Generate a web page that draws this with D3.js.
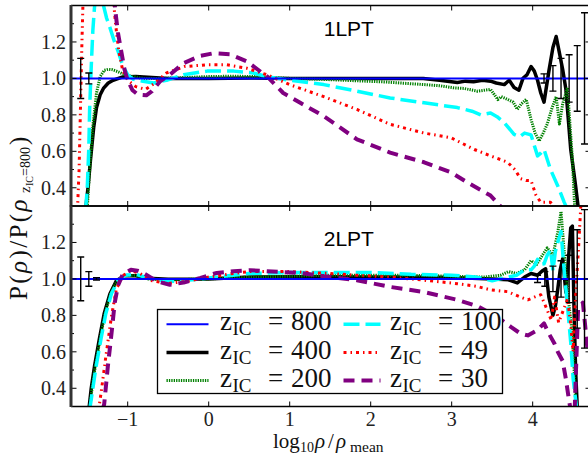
<!DOCTYPE html>
<html><head><meta charset="utf-8">
<script src="https://cdn.jsdelivr.net/npm/d3@7"></script>
<style>html,body{margin:0;padding:0;background:#fff;overflow:hidden}svg{display:block}</style>
</head><body><svg id="c" width="588" height="463"></svg>
<script>
// ---------------- data ----------------
const xTicks = [-1, 0, 1, 2, 3, 4];
const yTicks = [0.4, 0.6, 0.8, 1.0, 1.2];
const yMinorTicks = [0.4, 0.5, 0.6, 0.7, 0.8, 0.9, 1.0, 1.1, 1.2, 1.3];
const panelNames = ["1LPT", "2LPT"];
const seriesKeys = ["z400", "z200", "z100", "z49", "z30"];
const legendKeys = ["z800", "z400", "z200", "z100", "z49", "z30"];
const legendValues = ["800", "400", "200", "100", "49", "30"];
const z800Ratio = 1.0;

// 1LPT panel: [log10 rho/rho_mean, ratio]
const lpt1_z400 = [[-1.52,0.28],[-1.49,0.40],[-1.46,0.55],[-1.42,0.73],[-1.385,0.84],[-1.34,0.91],[-1.30,0.945],[-1.24,0.975],[-1.18,0.99],[-1.06,1.008],[-0.9,1.01],[-0.7,1.005],[-0.5,1.0],[0,1.0],[0.5,1.002],[1,1.0],[1.5,1.0],[2,1.0],[2.3,1.0],[2.65,1.0],[2.85,0.99],[3.07,0.978],[3.17,0.985],[3.27,0.982],[3.38,0.99],[3.48,0.985],[3.55,0.975],[3.65,0.966],[3.71,0.99],[3.77,0.95],[3.83,0.935],[3.88,1.0],[3.93,1.02],[3.98,1.065],[4.02,1.04],[4.06,0.99],[4.10,0.92],[4.14,0.87],[4.20,1.04],[4.25,1.17],[4.29,1.23],[4.33,1.14],[4.37,1.05],[4.41,0.94],[4.47,0.61],[4.53,0.41],[4.56,0.3],[4.58,0.25]];
const lpt1_z200 = [[-1.50,0.28],[-1.47,0.50],[-1.43,0.74],[-1.385,0.92],[-1.34,1.01],[-1.29,1.045],[-1.24,1.05],[-1.19,1.048],[-1.14,1.04],[-1.06,1.025],[-1.0,1.015],[-0.81,1.0],[-0.6,1.0],[-0.3,1.005],[0,1.01],[0.3,1.012],[0.6,1.01],[0.8,1.005],[1.0,1.0],[1.4,0.995],[1.83,0.987],[2.2,0.98],[2.66,0.966],[2.85,0.96],[3.03,0.948],[3.15,0.945],[3.32,0.93],[3.40,0.935],[3.48,0.94],[3.57,0.884],[3.61,0.90],[3.69,0.885],[3.76,0.87],[3.81,0.83],[3.86,0.86],[3.92,0.885],[3.98,0.775],[4.03,0.70],[4.08,0.657],[4.13,0.70],[4.18,0.75],[4.24,0.84],[4.29,0.90],[4.33,0.75],[4.37,0.86],[4.43,0.95],[4.46,0.75],[4.49,0.56],[4.52,0.28]];
const lpt1_z100 = [[-1.52,0.28],[-1.50,0.39],[-1.48,0.62],[-1.47,0.83],[-1.45,1.065],[-1.43,1.265],[-1.41,1.39],[-1.38,1.52],[-1.34,1.56],[-1.31,1.42],[-1.26,1.33],[-1.22,1.28],[-1.17,1.21],[-1.12,1.15],[-1.06,1.07],[-1.0,1.02],[-0.93,0.995],[-0.81,0.984],[-0.68,0.975],[-0.52,0.99],[-0.31,1.02],[-0.02,1.04],[0.31,1.04],[0.55,1.03],[0.72,1.01],[1.0,0.99],[1.42,0.966],[1.83,0.93],[2.24,0.893],[2.66,0.866],[3.07,0.84],[3.25,0.82],[3.36,0.80],[3.48,0.81],[3.56,0.79],[3.65,0.757],[3.77,0.693],[3.84,0.68],[3.9,0.70],[3.98,0.69],[4.06,0.575],[4.10,0.59],[4.14,0.61],[4.22,0.50],[4.31,0.41],[4.39,0.32],[4.43,0.28]];
const lpt1_z49 = [[-1.62,0.28],[-1.60,0.5],[-1.58,0.9],[-1.565,1.2],[-1.55,1.45],[-1.45,2.0],[-1.25,2.0],[-1.18,1.45],[-1.15,1.30],[-1.11,1.15],[-1.06,1.04],[-1.0,0.99],[-0.9,0.955],[-0.78,0.94],[-0.66,0.975],[-0.52,1.03],[-0.3,1.065],[-0.02,1.075],[0.22,1.075],[0.47,1.056],[0.72,1.02],[1.0,0.966],[1.42,0.90],[1.83,0.83],[2.24,0.748],[2.66,0.70],[2.99,0.675],[3.28,0.61],[3.48,0.575],[3.69,0.54],[3.78,0.50],[3.85,0.45],[3.92,0.44],[3.98,0.44],[4.04,0.36],[4.1,0.32],[4.22,0.32],[4.3,0.28]];
const lpt1_z30 = [[-1.17,1.45],[-1.15,1.36],[-1.12,1.25],[-1.08,1.15],[-1.04,1.05],[-1.0,0.99],[-0.94,0.935],[-0.87,0.91],[-0.77,0.907],[-0.70,0.93],[-0.6,0.984],[-0.48,1.02],[-0.31,1.084],[-0.1,1.124],[0.06,1.138],[0.26,1.133],[0.47,1.093],[0.72,1.011],[0.92,0.92],[1.0,0.90],[1.13,0.866],[1.42,0.793],[1.83,0.666],[2.24,0.593],[2.66,0.54],[2.99,0.485],[3.19,0.43],[3.48,0.357],[3.6,0.3],[3.7,0.25]];

// 2LPT panel
const lpt2_z400 = [[-1.48,0.28],[-1.45,0.40],[-1.41,0.52],[-1.35,0.67],[-1.29,0.81],[-1.22,0.917],[-1.14,0.99],[-1.04,1.018],[-0.91,1.018],[-0.75,1.003],[-0.5,0.998],[0,1.0],[0.5,1.01],[1,1.012],[1.5,1.012],[2,1.01],[2.5,1.01],[3,1.008],[3.5,1.0],[3.7,0.995],[3.81,0.978],[3.9,1.01],[3.98,1.03],[4.06,1.02],[4.12,1.045],[4.16,1.055],[4.2,0.9],[4.25,0.80],[4.28,0.85],[4.31,0.944],[4.34,1.05],[4.37,1.11],[4.41,0.926],[4.44,1.1],[4.47,1.28],[4.49,1.29],[4.51,0.85],[4.53,0.5],[4.55,0.3],[4.57,0.25]];
const lpt2_z200 = [[-1.47,0.28],[-1.44,0.40],[-1.40,0.52],[-1.34,0.67],[-1.28,0.81],[-1.21,0.92],[-1.13,0.99],[-1.03,1.02],[-0.9,1.018],[-0.75,1.0],[-0.5,0.995],[0,1.0],[0.5,1.01],[1,1.015],[1.5,1.02],[2,1.02],[2.5,1.02],[3,1.015],[3.4,1.01],[3.6,1.02],[3.7,1.04],[3.8,1.03],[3.9,1.05],[3.98,1.1],[4.05,1.08],[4.12,1.13],[4.18,1.17],[4.25,1.13],[4.31,1.256],[4.35,1.37],[4.38,1.2],[4.41,1.04],[4.45,0.85],[4.49,0.70],[4.53,0.33],[4.55,0.25]];
const lpt2_z100 = [[-1.47,0.28],[-1.43,0.40],[-1.39,0.52],[-1.33,0.67],[-1.27,0.81],[-1.20,0.92],[-1.12,0.99],[-1.03,1.02],[-0.9,1.025],[-0.75,1.005],[-0.5,0.985],[-0.2,0.995],[0,1.005],[0.3,1.02],[0.5,1.03],[1,1.035],[1.5,1.035],[2,1.035],[2.5,1.025],[3,1.02],[3.3,1.01],[3.5,0.99],[3.6,1.0],[3.7,1.01],[3.8,1.02],[3.9,1.05],[3.98,1.05],[4.02,1.07],[4.06,1.107],[4.10,1.08],[4.14,1.083],[4.18,1.13],[4.22,1.16],[4.25,1.046],[4.28,1.15],[4.31,1.2],[4.35,1.26],[4.39,1.04],[4.43,0.85],[4.47,0.65],[4.5,0.45],[4.54,0.3],[4.56,0.25]];
const lpt2_z49 = [[-1.36,0.28],[-1.33,0.37],[-1.27,0.574],[-1.2,0.796],[-1.14,0.944],[-1.06,1.018],[-0.96,1.046],[-0.85,1.03],[-0.7,0.99],[-0.5,0.975],[-0.3,0.985],[0,1.01],[0.3,1.03],[0.5,1.04],[1,1.04],[1.5,1.03],[1.83,1.02],[2.24,1.01],[2.66,0.993],[3.07,0.974],[3.3,0.96],[3.48,0.94],[3.69,0.93],[3.85,0.90],[3.94,0.885],[4.02,0.9],[4.10,0.913],[4.16,0.85],[4.23,0.774],[4.27,0.9],[4.32,0.76],[4.38,0.83],[4.43,0.89],[4.47,0.75],[4.5,0.6],[4.53,0.9],[4.57,1.2],[4.6,1.45]];
const lpt2_z30 = [[-1.31,0.28],[-1.29,0.314],[-1.245,0.52],[-1.20,0.70],[-1.16,0.87],[-1.12,0.963],[-1.06,1.026],[-0.96,1.05],[-0.88,1.045],[-0.81,1.033],[-0.64,0.987],[-0.48,0.968],[-0.31,0.98],[-0.1,1.006],[0.1,1.033],[0.31,1.042],[0.51,1.048],[0.72,1.042],[0.92,1.037],[1.13,1.033],[1.42,1.015],[1.83,0.993],[2.24,0.956],[2.66,0.928],[3.07,0.885],[3.32,0.85],[3.57,0.79],[3.73,0.737],[3.85,0.70],[3.94,0.69],[4.06,0.72],[4.14,0.756],[4.2,0.7],[4.27,0.644],[4.31,0.60],[4.37,0.55],[4.41,0.45],[4.45,0.33],[4.48,0.25],[4.52,0.3],[4.56,0.83],[4.62,0.87],[4.68,0.6]];

// error bars of the z_IC=800 reference: x positions and half-widths
const lpt1_errX = [-1.58, -1.48, 4.14, 4.25, 4.35, 4.45, 4.55, 4.64];
const lpt1_errY = [0.11, 0.03, 0.025, 0.07, 0.11, 0.13, 0.18, 0.36];
const lpt2_errX = [-1.58, -1.48, -1.385, 4.06, 4.15, 4.25, 4.35, 4.45, 4.55, 4.64];
const lpt2_errY = [0.12, 0.04, 0.006, 0.02, 0.04, 0.07, 0.10, 0.13, 0.27, 0.38];

const panelSeries = [
  {z400: lpt1_z400, z200: lpt1_z200, z100: lpt1_z100, z49: lpt1_z49, z30: lpt1_z30, errX: lpt1_errX, errY: lpt1_errY},
  {z400: lpt2_z400, z200: lpt2_z200, z100: lpt2_z100, z49: lpt2_z49, z30: lpt2_z30, errX: lpt2_errX, errY: lpt2_errY}
];

// ---------------- styles ----------------
const styles = {
  z800: {color: "#0000ff", width: 2,   dash: null},
  z400: {color: "#000000", width: 3.5, dash: null},
  z200: {color: "#008000", width: 3,   dash: "1.3,1.1"},
  z100: {color: "#00ffff", width: 3.5, dash: "16,6"},
  z49:  {color: "#ff0000", width: 3,   dash: "3,4,1.5,4"},
  z30:  {color: "#800080", width: 4,   dash: "11,7"}
};
const serif = "'Liberation Serif','Times New Roman',serif";
const sans = "'Liberation Sans',Arial,sans-serif";

const svg = d3.select("#c");
const left = 71, right = 591;
const panelBox = [{top: 5.5, bottom: 206}, {top: 206, bottom: 406.5}];
const x = d3.scaleLinear().domain([-1.70, 4.72]).range([left, right]);

panelBox.forEach((pb, i) => {
  const y = d3.scaleLinear().domain([0.3, 1.4]).range([pb.bottom, pb.top]);
  const data = panelSeries[i];
  const g = svg.append("g");
  const clipId = "clip" + i;
  g.append("clipPath").attr("id", clipId).append("rect")
    .attr("x", left).attr("y", pb.top).attr("width", right - left).attr("height", pb.bottom - pb.top);
  const plot = g.append("g").attr("clip-path", `url(#${clipId})`);
  const line = d3.line().x(d => x(d[0])).y(d => y(d[1]));

  seriesKeys.forEach(k => {
    const s = styles[k];
    plot.append("path").datum(data[k]).attr("d", line)
      .attr("fill", "none").attr("stroke", s.color).attr("stroke-width", s.width)
      .attr("stroke-dasharray", s.dash).attr("stroke-linejoin", "round");
  });
  // reference line
  plot.append("path").datum(x.domain().map(v => [v, z800Ratio])).attr("d", line)
    .attr("fill", "none").attr("stroke", styles.z800.color).attr("stroke-width", styles.z800.width);
  // error bars
  const eb = plot.append("g").attr("stroke", "#000").attr("stroke-width", 1.4);
  data.errX.forEach((ex, j) => {
    const e = data.errY[j];
    const px = x(ex);
    eb.append("line").attr("x1", px).attr("x2", px).attr("y1", y(z800Ratio - e)).attr("y2", y(z800Ratio + e));
    [z800Ratio - e, z800Ratio + e].forEach(v => {
      eb.append("line").attr("x1", px - 3.5).attr("x2", px + 3.5).attr("y1", y(v)).attr("y2", y(v));
    });
  });

  // frame
  const fr = g.append("g").attr("stroke", "#000").attr("fill", "none");
  fr.append("line").attr("x1", left).attr("x2", right).attr("y1", pb.top).attr("y2", pb.top).attr("stroke-width", 1.3);
  fr.append("line").attr("x1", left).attr("x2", right).attr("y1", pb.bottom).attr("y2", pb.bottom).attr("stroke-width", 1.3);
  fr.append("line").attr("x1", right).attr("x2", right).attr("y1", pb.top).attr("y2", pb.bottom).attr("stroke-width", 1.3);
  // x ticks (inward, top and bottom)
  xTicks.forEach(t => {
    fr.append("line").attr("x1", x(t)).attr("x2", x(t)).attr("y1", pb.top).attr("y2", pb.top + 5).attr("stroke-width", 1);
    fr.append("line").attr("x1", x(t)).attr("x2", x(t)).attr("y1", pb.bottom).attr("y2", pb.bottom - 5).attr("stroke-width", 1);
  });
  // y ticks (inward, left and right)
  yMinorTicks.forEach(t => {
    const major = yTicks.some(v => Math.abs(v - t) < 1e-9);
    const len = major ? 5.5 : 3;
    fr.append("line").attr("x1", left).attr("x2", left + len).attr("y1", y(t)).attr("y2", y(t)).attr("stroke-width", 1);
    fr.append("line").attr("x1", right).attr("x2", right - len).attr("y1", y(t)).attr("y2", y(t)).attr("stroke-width", 1);
  });
  // thick left spine
  g.append("line").attr("x1", left).attr("x2", left).attr("y1", pb.top - 0.5).attr("y2", pb.bottom + 0.5)
    .attr("stroke", "#333").attr("stroke-width", 3);

  // y tick labels
  yTicks.forEach(t => {
    g.append("text").attr("x", 66).attr("y", y(t)).attr("dy", "0.35em")
      .attr("text-anchor", "end").attr("font-family", serif).attr("font-size", 20).attr("fill", "#222")
      .text(d3.format(".1f")(t));
  });

  // panel label
  g.append("text").attr("x", x(1.42)).attr("y", y(i === 0 ? 1.233 : 1.18))
    .attr("font-family", sans).attr("font-size", 21).attr("fill", "#000").text(panelNames[i]);

  // x tick labels on bottom panel
  if (i === 1) {
    xTicks.forEach(t => {
      g.append("text").attr("x", x(t)).attr("y", 426).attr("text-anchor", "middle")
        .attr("font-family", serif).attr("font-size", 20).attr("fill", "#222")
        .text(t < 0 ? "\u2212" + Math.abs(t) : String(t));
    });
  }
});

// ---------------- legend ----------------
const lg = svg.append("g");
lg.append("rect").attr("x", 157.5).attr("y", 309.5).attr("width", 345).attr("height", 84)
  .attr("fill", "#fff").attr("stroke", "#000").attr("stroke-width", 1.3);
const rowY = [324.3, 352.5, 380.5];
const colHandle = [[166.5, 208.5], [343.5, 380.5]];
const colText = [220, 390];
legendKeys.forEach((k, idx) => {
  const col = Math.floor(idx / 3), row = idx % 3;
  const s = styles[k];
  const cy = rowY[row];
  lg.append("line").attr("x1", colHandle[col][0]).attr("x2", colHandle[col][1]).attr("y1", cy).attr("y2", cy)
    .attr("stroke", s.color).attr("stroke-width", s.width).attr("stroke-dasharray", s.dash);
  const tx = colText[col];
  const t = lg.append("text").attr("x", tx).attr("y", cy + 6).attr("font-family", serif).attr("font-size", 27).attr("fill", "#111");
  t.append("tspan").attr("x", tx).text("z");
  t.append("tspan").attr("x", tx + 12.5).attr("dy", 5).attr("font-size", 19).text("IC");
  t.append("tspan").attr("x", tx + 48).attr("dy", -5).text("=");
  t.append("tspan").attr("x", tx + 71).text(legendValues[idx]);
});

// ---------------- axis labels ----------------
const xl = svg.append("text").attr("y", 448).attr("font-family", serif).attr("font-size", 21).attr("fill", "#111");
xl.append("tspan").attr("x", 273).text("log");
xl.append("tspan").attr("x", 300).attr("dy", 3.5).attr("font-size", 14).text("10");
xl.append("tspan").attr("x", 315).attr("dy", -3.5).attr("font-style", "italic").text("\u03c1");
xl.append("tspan").attr("x", 328).text("/");
xl.append("tspan").attr("x", 336).attr("font-style", "italic").text("\u03c1");
xl.append("tspan").attr("x", 350).attr("dy", 3.5).attr("font-size", 15.5).text("mean");

const yl = svg.append("g").attr("transform", "translate(27,300) rotate(-90)")
  .attr("font-family", serif).attr("fill", "#111");
const ym = yl.append("text").attr("x", 0).attr("y", 0).attr("font-size", 25).attr("letter-spacing", 2.4);
ym.append("tspan").text("P(");
ym.append("tspan").attr("font-style", "italic").text("\u03c1");
ym.append("tspan").text(")/P(");
ym.append("tspan").attr("font-style", "italic").text("\u03c1");
yl.append("text").attr("x", 107).attr("y", 3).attr("font-size", 15).text("z");
yl.append("text").attr("x", 114).attr("y", 6).attr("font-size", 10).text("IC");
yl.append("text").attr("x", 124).attr("y", 3).attr("font-size", 14).text("=800");
yl.append("text").attr("x", 155).attr("y", 0).attr("font-size", 25).text(")");
</script>
</body></html>
